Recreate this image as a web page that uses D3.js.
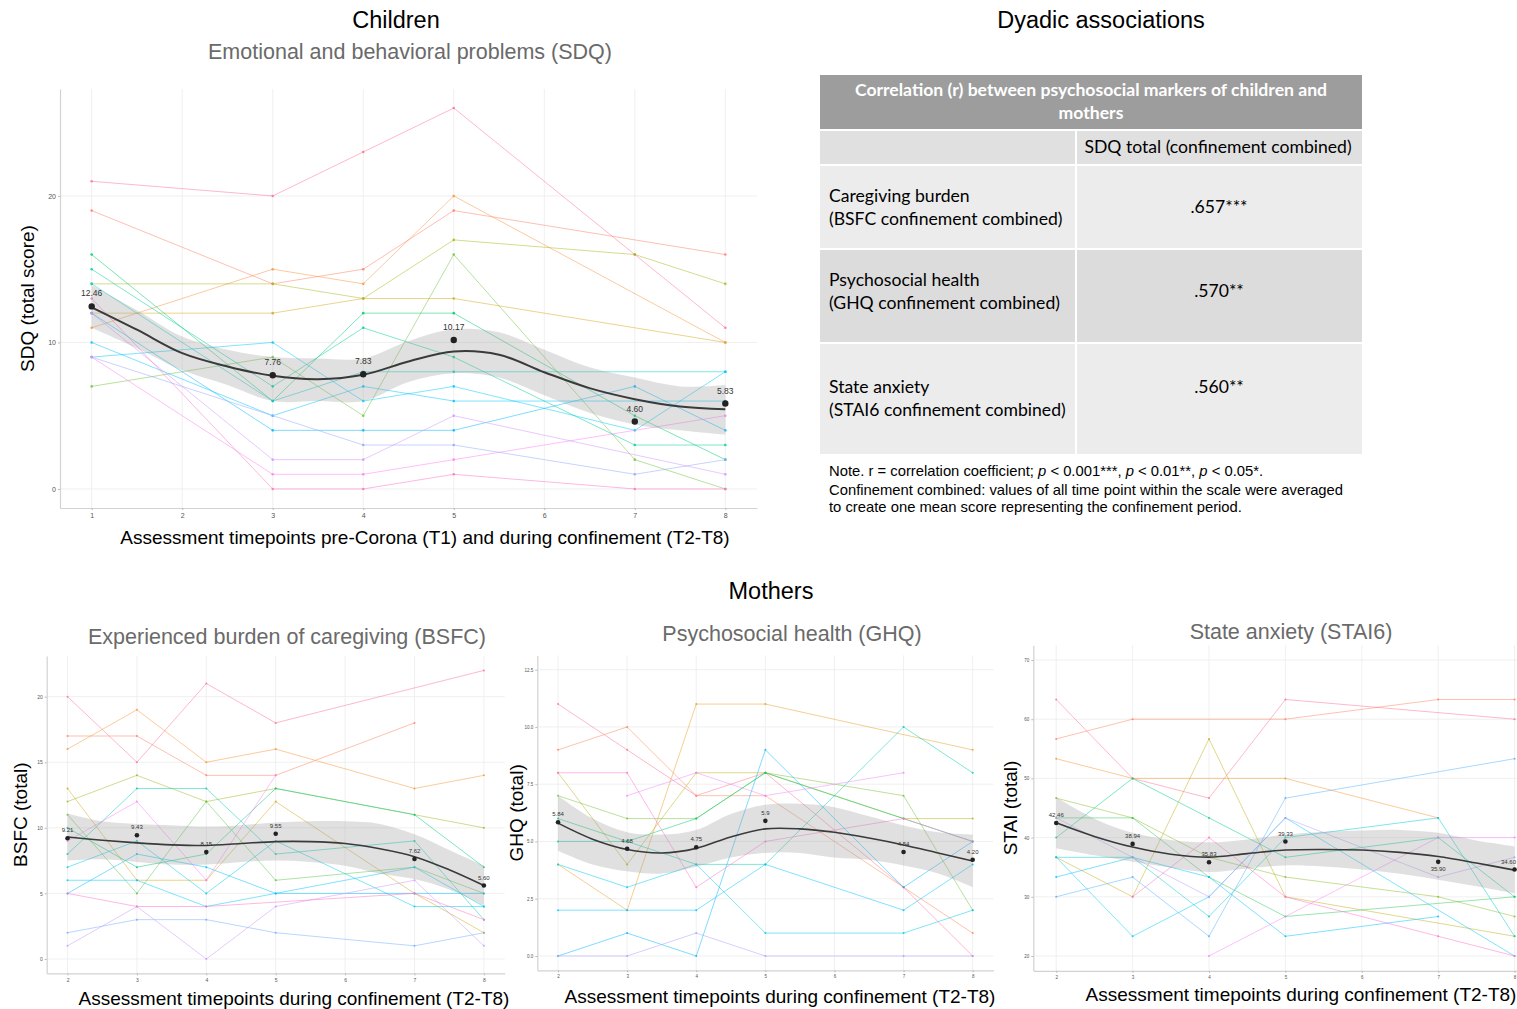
<!DOCTYPE html>
<html><head><meta charset="utf-8">
<script src="https://cdn.jsdelivr.net/npm/d3@7"></script>
<style>body{margin:0;background:#fff}svg{display:block}</style>
</head><body><svg id="c" width="1517" height="1009"></svg>
<script>
// ---------------- DATA ----------------
const timesChild = [1, 3, 4, 5, 7, 8];
const timesMother = [2, 3, 4, 5, 7, 8];
const xTicksChild = [1, 2, 3, 4, 5, 6, 7, 8];
const xTicksMother = [2, 3, 4, 5, 6, 7, 8];

const sdqIndividuals = [
  [21, 20, 23, 26, 16, 11],
  [19, 14, 15, 19, null, 16],
  [11, 15, 14, 20, null, 10],
  [12, 12, 13, 13, null, 10],
  [14, 14, 13, 17, 16, 14],
  [7, 9, 5, 16, 2, 0],
  [16, 6, 12, 12, 5, 2],
  [15, 7, 11, 9, 3, 3],
  [14, 6, 8, 8, null, 8],
  [9, 10, 6, 7, 4, 8],
  [10, 5, 7, 6, null, 6],
  [12, 4, 4, 4, 7, 4],
  [9, 5, 3, 3, 1, 2],
  [12, 2, 2, 5, null, 1],
  [9, 1, 1, 2, null, 5],
  [13, 0, 0, 1, 0, 0]
];
const sdqMeans = [12.46, 7.76, 7.83, 10.17, 4.60, 5.83];
const sdqMeanLabels = ["12.46", "7.76", "7.83", "10.17", "4.60", "5.83"];
const smoothXChild = [1, 1.5, 2, 2.5, 3, 3.5, 4, 4.5, 5, 5.5, 6, 6.5, 7, 7.5, 8];
const sdqFit = [12.4, 10.87, 9.27, 8.36, 7.72, 7.49, 7.79, 8.7, 9.38, 9.16, 7.97, 6.88, 6.13, 5.63, 5.44];
const sdqHi  = [13.9, 12.2, 10.4, 9.5, 9.0, 8.9, 8.9, 10.1, 10.9, 10.7, 9.5, 8.3, 7.6, 7.0, 7.1];
const sdqLo  = [11.0, 9.6, 8.1, 7.1, 6.0, 6.0, 6.0, 7.3, 7.9, 7.6, 6.4, 5.2, 4.4, 4.0, 3.7];
const sdqYTicks = [0, 10, 20];

const bsfcIndividuals = [
  [20, 15, 21, 18, null, 22],
  [17, 17, 14, 14, 18, null],
  [16, 19, 15, 16, 13, 14],
  [13, 6, 6, 12, 5, 2],
  [12, 14, 12, 13, 11, 10],
  [11, 5, 12, 6, 7, 5],
  [10, 7, 8, 13, 11, 7],
  [8, 13, 13, 8, 9, 3],
  [7, 9, 5, 9, 4, 4],
  [6, 6, 4, 5, 7, 4],
  [5, 8, 7, 5, 5, 5],
  [2, 3, 3, 2, 1, 2],
  [1, 4, 0, 4, 6, 1],
  [9, 12, 6, 14, null, null],
  [5, 4, 4, null, 5, 3]
];
const bsfcMeans = [9.21, 9.43, 8.15, 9.55, 7.62, 5.60];
const bsfcMeanLabels = ["9.21", "9.43", "8.15", "9.55", "7.62", "5.60"];
const smoothXMother = [2, 2.5, 3, 3.5, 4, 4.5, 5, 5.5, 6, 6.5, 7, 7.5, 8];
const bsfcFit = [9.3, 9.05, 8.85, 8.7, 8.65, 8.8, 8.95, 8.95, 8.8, 8.4, 7.8, 6.8, 5.6];
const bsfcHi  = [11.1, 10.5, 10.3, 10.2, 10.1, 10.2, 10.4, 10.5, 10.5, 10.3, 9.5, 8.3, 7.1];
const bsfcLo  = [7.5, 7.6, 7.4, 7.2, 7.2, 7.4, 7.5, 7.4, 7.1, 6.5, 6.1, 5.3, 4.1];
const bsfcYTicks = [0, 5, 10, 15, 20];

const ghqIndividuals = [
  [11, 9, 7, 8, 3, 0],
  [9, 10, 7, 7, 3, 1],
  [4, 2, 11, 11, null, 9],
  [8, 4, 8, 8, 6, 6],
  [7, 6, 6, 8, 7, 2],
  [6, 5, 6, 8, 6, 5],
  [5, 5, 4, 4, 10, 8],
  [4, 3, 4, 1, 1, 2],
  [2, 2, 2, 4, 2, 4],
  [0, 1, 0, 9, 3, 5],
  [0, 0, 1, 0, 0, 0],
  [null, 7, 8, 7, 8, null],
  [8, 8, 3, 5, 6, 5]
];
const ghqMeans = [5.84, 4.68, 4.75, 5.9, 4.54, 4.20];
const ghqMeanLabels = ["5.84", "4.68", "4.75", "5.9", "4.54", "4.20"];
const ghqFit = [5.8, 5.1, 4.65, 4.5, 4.7, 5.2, 5.55, 5.55, 5.4, 5.15, 4.85, 4.5, 4.15];
const ghqHi  = [7.0, 6.0, 5.4, 5.3, 5.5, 6.2, 6.6, 6.65, 6.5, 6.1, 5.7, 5.4, 5.3];
const ghqLo  = [4.6, 4.0, 3.7, 3.6, 3.9, 4.3, 4.5, 4.5, 4.3, 4.2, 3.95, 3.6, 3.0];
const ghqYTicks = [0, 2.5, 5, 7.5, 10, 12.5];

const staiIndividuals = [
  [63.33, 50, 46.67, 63.33, null, 60],
  [56.67, 60, null, 60, 63.33, 63.33],
  [53.33, 50, null, 50, 43.33, null],
  [36.67, 30, 56.67, 30, null, 23.33],
  [46.67, 43.33, 36.67, 33.33, 30, 26.67],
  [43.33, 43.33, 33.33, 26.67, null, 30],
  [40, 50, 43.33, 36.67, 40, 30],
  [36.67, 36.67, 26.67, 40, 43.33, 23.33],
  [36.67, 23.33, 30, 43.33, null, 20],
  [33.33, 36.67, 33.33, 23.33, 26.67, null],
  [30, 33.33, 23.33, 46.67, null, 53.33],
  [43.33, 36.67, 30, 43.33, 33.33, 36.67],
  [null, null, 20, null, 40, 40],
  [null, 30, 40, 30, 23.33, 20]
];
const staiMeans = [42.46, 38.94, 35.83, 39.33, 35.90, 34.60];
const staiMeanLabels = ["42.46", "38.94", "35.83", "39.33", "35.90", "34.60"];
const staiFit = [42.5, 40.2, 38.4, 37.2, 36.7, 37.3, 37.9, 38.0, 37.9, 37.5, 36.8, 35.7, 34.5];
const staiHi  = [46.8, 43.2, 40.8, 39.6, 39.2, 39.7, 40.5, 41.0, 41.2, 41.3, 40.8, 39.5, 38.5];
const staiLo  = [38.2, 37.0, 35.9, 34.9, 34.2, 34.8, 35.3, 35.1, 34.6, 33.9, 32.9, 31.8, 30.6];
const staiYTicks = [20, 30, 40, 50, 60, 70];

const corrHeader = ["Correlation (r) between psychosocial markers of children and", "mothers"];
const corrColumn = "SDQ total (confinement combined)";
const corrMarkers = ["Caregiving burden", "Psychosocial health", "State anxiety"];
const corrScales = ["(BSFC confinement combined)", "(GHQ confinement combined)", "(STAI6 confinement combined)"];
const corrValues = [".657***", ".570**", ".560**"];

// ---------------- DRAW ----------------
const svg = d3.select("#c");
const SANS = "'Liberation Sans', Arial, sans-serif";

function txt(x, y, s, size, opts = {}) {
  return svg.append("text").attr("x", x).attr("y", y).text(s)
    .attr("font-family", opts.family || SANS).attr("font-size", size)
    .attr("fill", opts.fill || "#000").attr("text-anchor", opts.anchor || "middle")
    .attr("font-weight", opts.weight || "normal");
}

function panel(cfg) {
  const g = svg.append("g");
  const x = d3.scaleLinear().domain(cfg.xDomain).range([cfg.left, cfg.right]);
  const y = d3.scaleLinear().domain(cfg.yDomain).range([cfg.bottom, cfg.top]);
  const clipId = "clip" + cfg.id;
  svg.append("clipPath").attr("id", clipId).append("rect")
    .attr("x", cfg.left).attr("y", cfg.top).attr("width", cfg.right - cfg.left).attr("height", cfg.bottom - cfg.top);

  // grid
  g.append("g").selectAll("line").data(cfg.xTicks).join("line")
    .attr("x1", d => x(d)).attr("x2", d => x(d)).attr("y1", cfg.top).attr("y2", cfg.bottom)
    .attr("stroke", "#ececec").attr("stroke-width", 0.8);
  g.append("g").selectAll("line").data(cfg.yTicks).join("line")
    .attr("x1", cfg.left).attr("x2", cfg.right).attr("y1", d => y(d)).attr("y2", d => y(d))
    .attr("stroke", "#ececec").attr("stroke-width", 0.8);

  // axes
  const xa = g.append("g").attr("transform", `translate(0,${cfg.bottom})`)
    .call(d3.axisBottom(x).tickValues(cfg.xTicks).tickSize(2).tickSizeOuter(0).tickPadding(3).tickFormat(d3.format("d")));
  const ya = g.append("g").attr("transform", `translate(${cfg.left},0)`)
    .call(d3.axisLeft(y).tickValues(cfg.yTicks).tickSize(2).tickSizeOuter(0).tickPadding(2).tickFormat(cfg.yFormat));
  [xa, ya].forEach(a => {
    a.select(".domain").attr("stroke", "#d2d2d2").attr("stroke-width", 1.2);
    a.selectAll(".tick line").attr("stroke", "#bbb");
    a.selectAll("text").attr("font-family", SANS).attr("font-size", cfg.tickSize).attr("fill", "#555");
  });

  const body = g.append("g").attr("clip-path", `url(#${clipId})`);
  const n = cfg.individuals.length;
  const color = i => d3.hcl(15 + 360 * i / n, 70, 72).formatHex();
  const line = d3.line().x(d => x(d.t)).y(d => y(d.v));
  cfg.individuals.forEach((s, i) => {
    const pts = cfg.times.map((t, j) => ({ t, v: s[j] })).filter(p => p.v != null);
    body.append("path").datum(pts).attr("d", line).attr("fill", "none")
      .attr("stroke", color(i)).attr("stroke-width", 0.85).attr("stroke-opacity", 0.6);
    body.selectAll(null).data(pts).join("circle").attr("cx", d => x(d.t)).attr("cy", d => y(d.v))
      .attr("r", cfg.dotR).attr("fill", color(i)).attr("fill-opacity", 0.85);
  });

  // ribbon + smooth
  const sm = cfg.smoothX.map((t, i) => ({ t, f: cfg.fit[i], lo: cfg.lo[i], hi: cfg.hi[i] }));
  body.append("path").datum(sm)
    .attr("d", d3.area().x(d => x(d.t)).y0(d => y(d.lo)).y1(d => y(d.hi)).curve(d3.curveCatmullRom))
    .attr("fill", "#999").attr("fill-opacity", 0.3);
  body.append("path").datum(sm)
    .attr("d", d3.line().x(d => x(d.t)).y(d => y(d.f)).curve(d3.curveCatmullRom))
    .attr("fill", "none").attr("stroke", "#3a3a3a").attr("stroke-width", cfg.smoothW);

  // means
  const mp = cfg.times.map((t, i) => ({ t, v: cfg.means[i], lab: cfg.meanLabels[i], below: (cfg.below || []).includes(i), end: (cfg.endAnchor || []).includes(i) }));
  g.selectAll(null).data(mp).join("circle")
    .attr("cx", d => x(d.t)).attr("cy", d => y(d.v)).attr("r", cfg.meanR).attr("fill", "#222");
  g.selectAll(null).data(mp).join("text")
    .attr("x", d => d.end ? 1516 : x(d.t))
    .attr("y", d => d.below ? y(d.v) + cfg.labOff + 1 : y(d.v) - cfg.labOff + cfg.labSize * 0.35)
    .attr("text-anchor", d => d.end ? "end" : "middle").attr("font-family", SANS).attr("font-size", cfg.labSize).attr("fill", "#333")
    .text(d => d.lab);

  // axis titles
  svg.append("text").attr("transform", `translate(${cfg.yTitleX},${(cfg.top + cfg.bottom) / 2}) rotate(-90)`)
    .attr("text-anchor", "middle").attr("font-family", SANS).attr("font-size", cfg.titleSize).text(cfg.yTitle);
  txt(cfg.xTitleX, cfg.xTitleY, cfg.xTitle, cfg.titleSize);
}

// Titles
txt(396, 28, "Children", 23.5);
txt(410, 59, "Emotional and behavioral problems (SDQ)", 21.5, { fill: "#6a6a6a" });
txt(1101, 28, "Dyadic associations", 23.5);
txt(771, 599, "Mothers", 23.5);
txt(287, 644, "Experienced burden of caregiving (BSFC)", 21.5, { fill: "#6a6a6a" });
txt(792, 641, "Psychosocial health (GHQ)", 21.5, { fill: "#6a6a6a" });
txt(1291, 639, "State anxiety (STAI6)", 21.5, { fill: "#6a6a6a" });

panel({
  id: "sdq", left: 60, right: 757, top: 89, bottom: 508,
  xDomain: [0.65, 8.35], yDomain: [-1.3, 27.3], xTicks: xTicksChild, yTicks: sdqYTicks, yFormat: d3.format("d"),
  times: timesChild, individuals: sdqIndividuals, means: sdqMeans, meanLabels: sdqMeanLabels,
  smoothX: smoothXChild, fit: sdqFit, lo: sdqLo, hi: sdqHi,
  tickSize: 7, dotR: 1.3, meanR: 3.2, labSize: 8.5, labOff: 13, smoothW: 2,
  yTitle: "SDQ (total score)", yTitleX: 34, xTitle: "Assessment timepoints pre-Corona (T1) and during confinement (T2-T8)",
  xTitleX: 425, xTitleY: 544, titleSize: 19
});
panel({
  id: "bsfc", left: 46.7, right: 504.7, top: 656, bottom: 973.4,
  xDomain: [1.7, 8.3], yDomain: [-1.1, 23.1], xTicks: xTicksMother, yTicks: bsfcYTicks, yFormat: d3.format("d"),
  times: timesMother, individuals: bsfcIndividuals, means: bsfcMeans, meanLabels: bsfcMeanLabels,
  smoothX: smoothXMother, fit: bsfcFit, lo: bsfcLo, hi: bsfcHi,
  tickSize: 5, dotR: 1.0, meanR: 2.3, labSize: 6, labOff: 8, smoothW: 1.6,
  yTitle: "BSFC (total)", yTitleX: 27, xTitle: "Assessment timepoints during confinement (T2-T8)",
  xTitleX: 294, xTitleY: 1005, titleSize: 19
});
panel({
  id: "ghq", left: 537.3, right: 993.4, top: 655.4, bottom: 970.3,
  xDomain: [1.7, 8.3], yDomain: [-0.625, 13.125], xTicks: xTicksMother, yTicks: ghqYTicks, yFormat: d3.format(".1f"),
  times: timesMother, individuals: ghqIndividuals, means: ghqMeans, meanLabels: ghqMeanLabels,
  smoothX: smoothXMother, fit: ghqFit, lo: ghqLo, hi: ghqHi,
  tickSize: 4.5, dotR: 1.0, meanR: 2.3, labSize: 6, labOff: 8, smoothW: 1.6,
  yTitle: "GHQ (total)", yTitleX: 523, xTitle: "Assessment timepoints during confinement (T2-T8)",
  xTitleX: 780, xTitleY: 1003, titleSize: 19
});
panel({
  id: "stai", left: 1033.3, right: 1537.5, top: 645.2, bottom: 970.8,
  xDomain: [1.7, 8.3], yDomain: [17.5, 72.5], xTicks: xTicksMother, yTicks: staiYTicks, yFormat: d3.format("d"),
  times: timesMother, individuals: staiIndividuals, means: staiMeans, meanLabels: staiMeanLabels,
  smoothX: smoothXMother, fit: staiFit, lo: staiLo, hi: staiHi, below: [4], endAnchor: [5],
  tickSize: 4.5, dotR: 1.0, meanR: 2.3, labSize: 6, labOff: 8, smoothW: 1.6,
  yTitle: "STAI (total)", yTitleX: 1017, xTitle: "Assessment timepoints during confinement (T2-T8)",
  xTitleX: 1301, xTitleY: 1001, titleSize: 19
});

// ---------------- TABLE ----------------
const LATO = "Lato, 'Open Sans', sans-serif";
const tx0 = 820, tDiv = 1076, tx1 = 1362;
svg.append("rect").attr("x", tx0).attr("y", 75).attr("width", tx1 - tx0).attr("height", 54).attr("fill", "#9d9d9d");
corrHeader.forEach((s, i) => txt((tx0 + tx1) / 2, 96 + i * 23, s, 17.6, { family: LATO, fill: "#fff", weight: "bold" }));
const rowBands = [[131, 164], [166, 248], [250, 342], [344, 454]];
const rowFills = ["#e0e0e0", "#ececec", "#dcdcdc", "#ececec"];
rowBands.forEach((b, i) => {
  svg.append("rect").attr("x", tx0).attr("y", b[0]).attr("width", tDiv - tx0 - 1).attr("height", b[1] - b[0]).attr("fill", rowFills[i]);
  svg.append("rect").attr("x", tDiv + 1).attr("y", b[0]).attr("width", tx1 - tDiv - 1).attr("height", b[1] - b[0]).attr("fill", rowFills[i]);
});
txt(1218, 153, corrColumn, 17.6, { family: LATO });
corrMarkers.forEach((m, i) => {
  const b = rowBands[i + 1];
  const top = i === 2 ? b[0] + 49 : b[0] + 36;
  txt(829, top, m, 17.6, { family: LATO, anchor: "start" });
  txt(829, top + 23, corrScales[i], 17.6, { family: LATO, anchor: "start" });
  txt(1219, i === 2 ? top : top + 11, corrValues[i], 17.6, { family: LATO });
});
// note
const note = svg.append("text").attr("x", 829).attr("y", 476).attr("font-family", SANS).attr("font-size", 14.8);
note.append("tspan").text("Note. r = correlation coefficient; ");
note.append("tspan").attr("font-style", "italic").text("p");
note.append("tspan").text(" < 0.001***, ");
note.append("tspan").attr("font-style", "italic").text("p");
note.append("tspan").text(" < 0.01**, ");
note.append("tspan").attr("font-style", "italic").text("p");
note.append("tspan").text(" < 0.05*.");
txt(829, 495, "Confinement combined: values of all time point within the scale were averaged", 14.8, { anchor: "start" });
txt(829, 512, "to create one mean score representing the confinement period.", 14.8, { anchor: "start" });
</script></body></html>
